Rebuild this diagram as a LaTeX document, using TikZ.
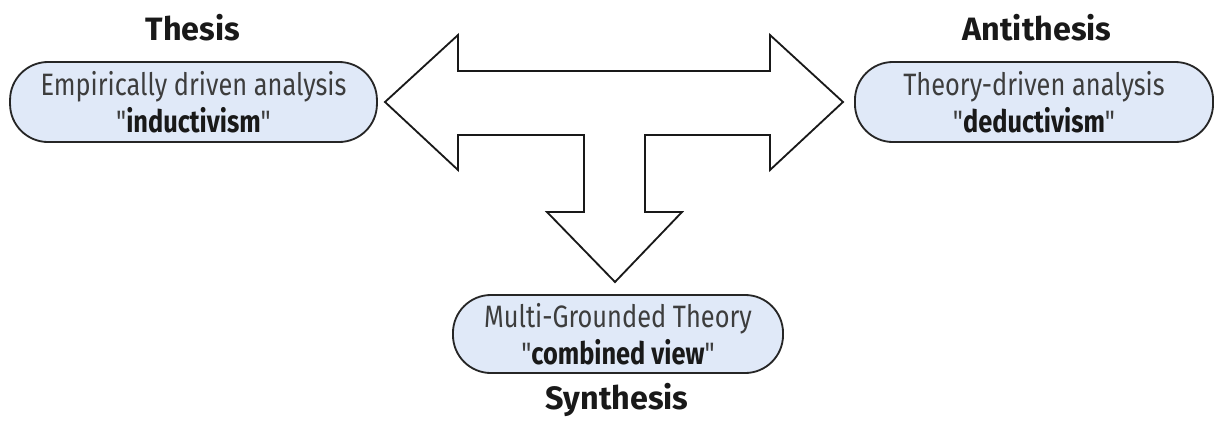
\documentclass[tikz,border=0pt]{standalone}
\usepackage{fontspec}
\setmainfont{Fira Sans}
\newfontfamily\boxfont{Fira Sans}[FakeStretch=0.82]
\usepackage{xcolor}
\usepackage{tikz}
\usetikzlibrary{positioning,calc}

\definecolor{boxblue}{HTML}{E0E9F8}

\begin{document}
\begin{tikzpicture}[x=0.025cm, y=-0.025cm,
  view/.style={draw=black!85, line width=1.3pt, fill=boxblue, rounded corners=0.95cm,
    minimum height=2cm, align=center, text=black!76, inner sep=0pt,
    font=\boxfont\fontsize{22}{26.5}\selectfont},
  stage/.style={font=\bfseries\fontsize{23}{26}\selectfont, text=black!90},
  bigarrow/.style={draw=black!90, line width=1.3pt, fill=white, line join=miter}
]
\useasboundingbox (0,0) rectangle (1216,423);
% the three positions
\node[view, minimum width=9.17cm] (ind) at (193.5,102) {Empirically driven analysis\\"\textbf{\color{black!90}inductivism}"};
\node[view, minimum width=8.95cm] (ded) at (1034,102) {Theory-driven analysis\\"\textbf{\color{black!90}deductivism}"};
\node[view, minimum width=8.25cm, minimum height=1.95cm] (comb) at (618,334) {Multi-Grounded Theory\\"\textbf{\color{black!90}combined view}"};
\node[stage] (thesis) at (193,28) {Thesis};
\node[stage] (anti) at (1037,28) {Antithesis};
\node[stage] (synth) at (617,400) {Synthesis};
% T-shaped block arrow
\draw[bigarrow] (385,102) -- (458,35) -- (458,71) -- (770,71) -- (770,35) -- (843,102)
  -- (770,170) -- (770,135) -- (645,135) -- (645,212) -- (682,212) -- (615,282)
  -- (547,212) -- (584,212) -- (584,135) -- (458,135) -- (458,170) -- cycle;
\end{tikzpicture}
\end{document}
